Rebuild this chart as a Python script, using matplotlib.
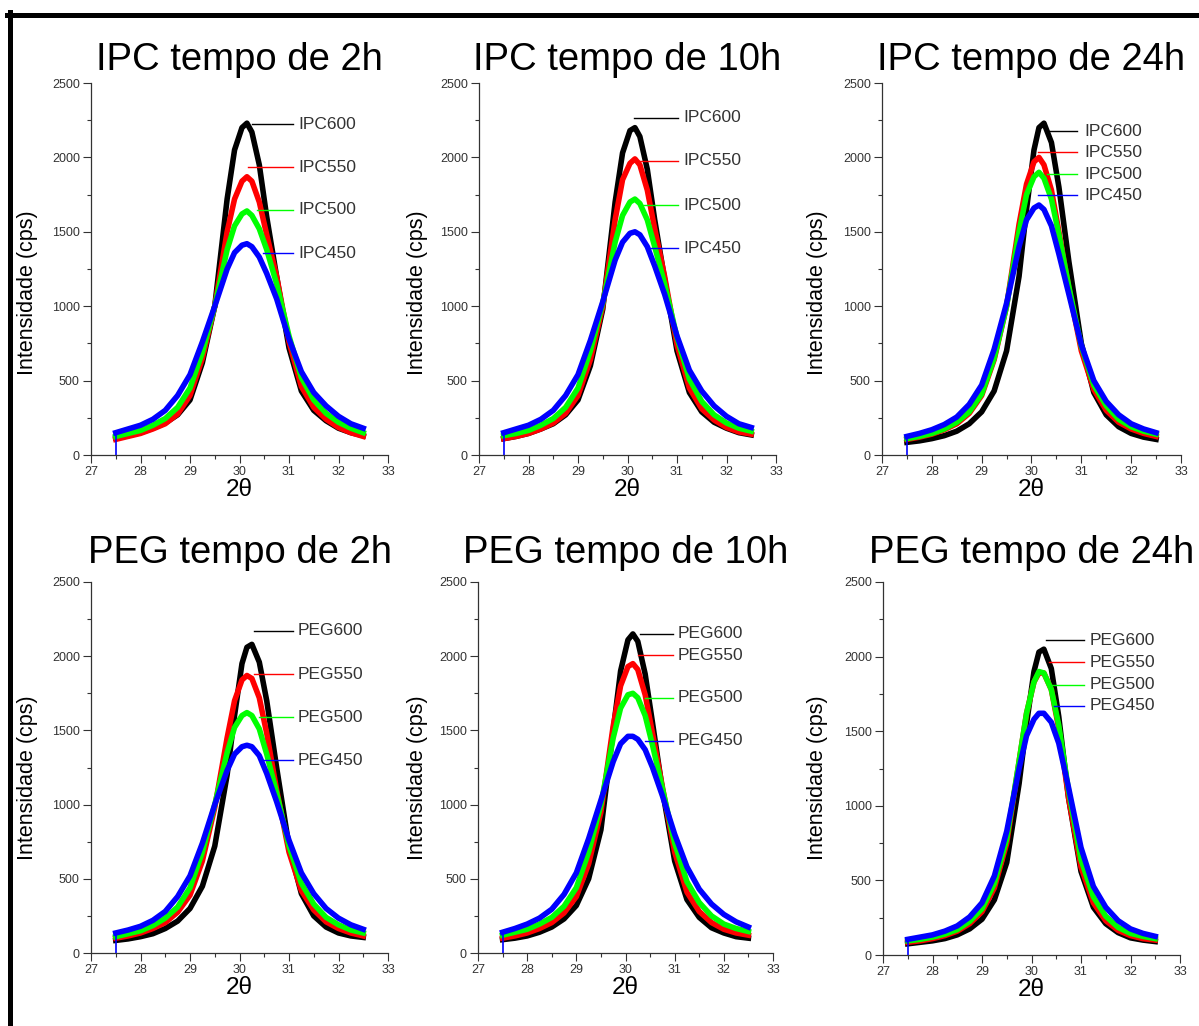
import numpy as np
import matplotlib
matplotlib.use("Agg")
import matplotlib.pyplot as plt
from matplotlib.lines import Line2D
from matplotlib.ticker import MultipleLocator

plt.rcParams["font.family"] = ["Liberation Sans", "DejaVu Sans"]

# 2theta sampling points (deg)
theta = [27.5, 27.75, 28.0, 28.25, 28.5, 28.75, 29.0, 29.25, 29.5, 29.75, 29.9,
         30.05, 30.15, 30.25, 30.4, 30.55, 30.75, 31.0, 31.25, 31.5, 31.75,
         32.0, 32.25, 32.5]

# IPC 2h
ipc2_600 = [115, 130, 150, 180, 215, 270, 370, 620, 1000, 1720, 2050, 2200, 2230, 2170, 1950, 1600, 1200, 720, 430, 300, 230, 180, 150, 130]
ipc2_550 = [105, 125, 145, 175, 210, 275, 400, 650, 1000, 1500, 1720, 1840, 1870, 1840, 1700, 1480, 1200, 760, 460, 320, 240, 185, 150, 125]
ipc2_500 = [125, 145, 165, 200, 245, 320, 450, 690, 1000, 1380, 1540, 1620, 1640, 1610, 1520, 1380, 1150, 800, 520, 370, 280, 220, 180, 150]
ipc2_450 = [150, 175, 200, 240, 300, 400, 540, 760, 1000, 1250, 1360, 1410, 1420, 1400, 1330, 1220, 1050, 780, 560, 420, 330, 260, 210, 180]

# IPC 10h
ipc10_600 = [110, 125, 145, 175, 210, 270, 370, 600, 980, 1700, 2030, 2180, 2200, 2140, 1920, 1580, 1180, 700, 420, 290, 220, 180, 150, 135]
ipc10_550 = [110, 125, 145, 175, 215, 280, 400, 640, 1000, 1580, 1850, 1960, 1990, 1950, 1780, 1520, 1200, 740, 450, 310, 235, 185, 155, 140]
ipc10_500 = [130, 145, 165, 200, 245, 320, 450, 700, 1020, 1430, 1610, 1700, 1720, 1690, 1580, 1400, 1150, 790, 510, 360, 270, 215, 180, 160]
ipc10_450 = [150, 175, 200, 240, 300, 400, 540, 770, 1030, 1310, 1430, 1490, 1500, 1480, 1400, 1270, 1080, 800, 570, 430, 330, 260, 210, 185]

# IPC 24h
ipc24_600 = [85, 95, 110, 130, 160, 210, 290, 430, 700, 1200, 1650, 2050, 2200, 2230, 2100, 1800, 1300, 750, 420, 270, 190, 145, 120, 105]
ipc24_550 = [105, 120, 140, 170, 210, 280, 400, 640, 1000, 1550, 1820, 1970, 2000, 1950, 1780, 1500, 1120, 700, 440, 300, 220, 175, 145, 125]
ipc24_500 = [110, 125, 145, 175, 220, 290, 410, 650, 1000, 1500, 1750, 1870, 1900, 1860, 1720, 1480, 1130, 730, 470, 330, 240, 190, 160, 140]
ipc24_450 = [125, 145, 170, 205, 255, 340, 470, 710, 1020, 1400, 1580, 1660, 1680, 1650, 1540, 1350, 1080, 740, 500, 360, 270, 210, 175, 150]

# PEG 2h
peg2_600 = [85, 95, 110, 130, 165, 215, 300, 450, 720, 1200, 1600, 1950, 2060, 2080, 1960, 1700, 1250, 720, 400, 250, 175, 135, 115, 105]
peg2_550 = [100, 115, 135, 165, 205, 275, 390, 620, 980, 1450, 1700, 1840, 1870, 1850, 1720, 1480, 1100, 680, 420, 290, 210, 165, 135, 115]
peg2_500 = [110, 130, 150, 185, 235, 310, 440, 680, 1000, 1350, 1520, 1600, 1620, 1600, 1510, 1340, 1080, 720, 470, 330, 240, 190, 155, 135]
peg2_450 = [135, 155, 180, 220, 280, 380, 520, 740, 1000, 1230, 1340, 1390, 1400, 1390, 1330, 1210, 1020, 760, 540, 400, 300, 235, 190, 160]

# PEG 10h
peg10_600 = [90, 100, 115, 140, 175, 230, 320, 500, 830, 1500, 1900, 2110, 2150, 2100, 1880, 1550, 1100, 620, 360, 240, 170, 135, 110, 100]
peg10_550 = [100, 115, 135, 165, 205, 270, 380, 600, 950, 1530, 1800, 1930, 1950, 1910, 1740, 1480, 1120, 680, 410, 280, 205, 160, 135, 120]
peg10_500 = [120, 140, 160, 195, 240, 315, 440, 680, 1000, 1450, 1650, 1740, 1750, 1720, 1600, 1400, 1110, 740, 480, 340, 250, 195, 165, 145]
peg10_450 = [140, 165, 195, 235, 295, 395, 540, 770, 1030, 1290, 1410, 1460, 1460, 1440, 1370, 1250, 1060, 800, 580, 430, 330, 260, 210, 175]

# PEG 24h
peg24_600 = [75, 85, 95, 110, 135, 175, 240, 370, 620, 1150, 1550, 1900, 2030, 2050, 1920, 1600, 1050, 560, 320, 210, 150, 115, 100, 90]
peg24_550 = [85, 95, 110, 130, 160, 210, 290, 450, 750, 1300, 1620, 1830, 1890, 1890, 1780, 1520, 1050, 590, 350, 230, 165, 130, 110, 100]
peg24_500 = [95, 105, 120, 140, 170, 225, 310, 480, 780, 1300, 1620, 1830, 1900, 1890, 1780, 1540, 1100, 640, 390, 260, 185, 145, 125, 110]
peg24_450 = [105, 120, 135, 160, 195, 255, 350, 530, 830, 1250, 1470, 1580, 1620, 1620, 1560, 1420, 1120, 720, 460, 320, 230, 175, 145, 125]

titles = ["IPC tempo de 2h", "IPC tempo de 10h", "IPC tempo de 24h",
          "PEG tempo de 2h", "PEG tempo de 10h", "PEG tempo de 24h"]
series = [
    [ipc2_600, ipc2_550, ipc2_500, ipc2_450],
    [ipc10_600, ipc10_550, ipc10_500, ipc10_450],
    [ipc24_600, ipc24_550, ipc24_500, ipc24_450],
    [peg2_600, peg2_550, peg2_500, peg2_450],
    [peg10_600, peg10_550, peg10_500, peg10_450],
    [peg24_600, peg24_550, peg24_500, peg24_450],
]
temps = ["600", "550", "500", "450"]
prefixes = ["IPC", "IPC", "IPC", "PEG", "PEG", "PEG"]

# label heights (cps) and leader line ends (2theta)
label_y = [
    [2224, 1935, 1647, 1357],
    [2265, 1976, 1680, 1391],
    [2177, 2036, 1888, 1747],
    [2170, 1880, 1590, 1300],
    [2150, 2008, 1719, 1429],
    [2110, 1961, 1813, 1672],
]
label_x0 = [
    [30.25, 30.17, 30.35, 30.47],
    [30.13, 30.2, 30.3, 30.45],
    [30.33, 30.13, 30.31, 30.13],
    [30.3, 30.3, 30.4, 30.5],
    [30.29, 30.25, 30.4, 30.4],
    [30.3, 30.35, 30.4, 30.45],
]
label_x1 = [31.08, 31.02, 30.92, 31.08, 30.96, 31.06]
text_x = [31.18, 31.12, 31.06, 31.18, 31.07, 31.17]

colors = ["#000000", "#ff0000", "#00ff00", "#0000ff"]

W, H = 1199, 1026
# axes boxes in pixels: left, top, right, bottom
boxes = [(91, 83, 388, 455), (479, 83, 776, 455), (882, 83, 1181, 455),
         (91, 582, 388, 953), (478, 582, 773, 953), (883, 582, 1180, 955)]
ylabel_cx = [28, 418, 818, 28, 418, 818]
ylabel_cy = [293, 293, 293, 778, 778, 778]

fig = plt.figure(figsize=(W / 100, H / 100), dpi=100)
fig.patch.set_facecolor("white")

for i in range(6):
    l, t, r, b = boxes[i]
    ax = fig.add_axes([l / W, 1 - b / H, (r - l) / W, (b - t) / H])
    for k in range(4):
        ax.plot(theta, series[i][k], color=colors[k], lw=4,
                solid_joinstyle="round", zorder=2 + k)
    ax.vlines(theta[0], 0, series[i][3][0], color=colors[3], lw=1.2, zorder=6)
    for k in range(4):
        ax.plot([label_x0[i][k], label_x1[i]], [label_y[i][k]] * 2,
                color=colors[k], lw=1.0, zorder=7)
        ax.text(text_x[i], label_y[i][k], prefixes[i] + temps[k],
                fontsize=12.5, color="#333333", va="center", ha="left")
    ax.set_xlim(27, 33)
    ax.set_ylim(0, 2500)
    ax.xaxis.set_major_locator(MultipleLocator(1))
    ax.xaxis.set_minor_locator(MultipleLocator(0.5))
    ax.yaxis.set_major_locator(MultipleLocator(500))
    ax.yaxis.set_minor_locator(MultipleLocator(250))
    ax.spines["top"].set_visible(False)
    ax.spines["right"].set_visible(False)
    for s in ("left", "bottom"):
        ax.spines[s].set_color("#333333")
        ax.spines[s].set_linewidth(0.9)
    ax.tick_params(which="major", length=6, width=0.8, color="#333333",
                   labelsize=9, labelcolor="#333333", pad=2)
    ax.tick_params(which="minor", length=3, width=0.8, color="#333333")
    ax.set_xlabel("2θ", fontsize=17.5, labelpad=1)
    ax.set_ylabel("Intensidade (cps)", fontsize=15.5)
    ax.yaxis.set_label_coords(-(l - ylabel_cx[i] - 10) / (r - l),
                              (b - ylabel_cy[i]) / (b - t))
    ax.set_title(titles[i], fontsize=27.5, pad=9.5 if i < 3 else 13.5)

# frame lines on top and left
fig.add_artist(Line2D([7 / W, 1], [1 - 14.5 / H, 1 - 14.5 / H], color="black",
                      lw=3.6, transform=fig.transFigure))
fig.add_artist(Line2D([9.5 / W, 9.5 / W], [0, 1 - 12 / H], color="black",
                      lw=3.6, transform=fig.transFigure))

fig.savefig("out.png", dpi=100)
